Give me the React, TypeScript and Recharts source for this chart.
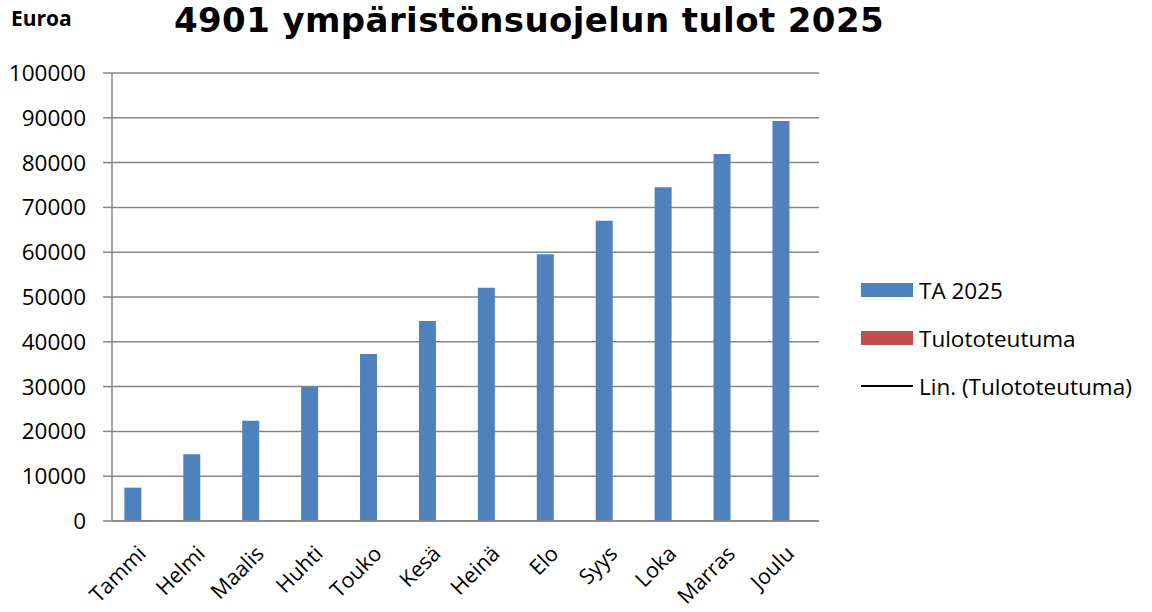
import React from "react";
import { BarChart, Bar, XAxis, YAxis, CartesianGrid } from "recharts";

const months = ["Tammi", "Helmi", "Maalis", "Huhti", "Touko", "Kesä", "Heinä", "Elo", "Syys", "Loka", "Marras", "Joulu"];
const budget = [7450, 14900, 22350, 29900, 37250, 44650, 52050, 59550, 67000, 74500, 81900, 89300];
const actual = [200, null, null, null, null, null, null, null, null, null, null, null];
const yTicks = [0, 10000, 20000, 30000, 40000, 50000, 60000, 70000, 80000, 90000, 100000];

const legendItems = [
  { name: "TA 2025", color: "#4F81BD", kind: "rect" },
  { name: "Tulototeutuma", color: "#C0504D", kind: "rect" },
  { name: "Lin. (Tulototeutuma)", color: "#000000", kind: "line" },
];

const data = months.map((m, i) => ({ month: m, ta: budget[i], tot: actual[i] }));

const FONT = "'Open Sans', Lato, sans-serif";
const GRID = "#868686";

const MonthTick = (props: any) => {
  const { x, y, payload } = props;
  const px = x + 6;
  const py = y + 26;
  return (
    <text x={px} y={py} transform={`rotate(-45, ${px}, ${py})`} textAnchor="end"
      fontSize={21.5} fontFamily={FONT} fill="#000">
      {payload.value}
    </text>
  );
};

export default function App() {
  return (
    <div style={{ position: "absolute", left: 0, top: 0, width: 1152, height: 612, background: "#fff" }}>
      <svg width={1152} height={44} style={{ position: "absolute", left: 0, top: 0 }}>
        <text x={11} y={26} fontFamily={FONT} fontWeight={700} fontSize={21} fill="#000">Euroa</text>
        <text x={529} y={32} textAnchor="middle" fontFamily="'DejaVu Sans', sans-serif" fontWeight={700}
          fontSize={34} letterSpacing={0.4} fill="#000">
          4901 ympäristönsuojelun tulot 2025
        </text>
      </svg>
      <div style={{ position: "absolute", left: 861, top: 266, fontFamily: FONT, fontSize: 22.5, color: "#000" }}>
        {legendItems.map((it) => (
          <div key={it.name} style={{ display: "flex", alignItems: "center", height: 48 }}>
            <span style={{ width: 52, height: it.kind === "rect" ? 14 : 2, background: it.color, marginRight: 6 }} />
            <span>{it.name}</span>
          </div>
        ))}
      </div>
      <BarChart width={1152} height={612} data={data} style={{ position: "absolute", left: 0, top: 0 }}
        margin={{ top: 73, right: 333, bottom: 0, left: 0 }}
        barCategoryGap="21%" barGap={0}>
        <CartesianGrid vertical={false} stroke={GRID} strokeWidth={1.5} />
        <XAxis dataKey="month" height={91} interval={0} tick={<MonthTick />}
          axisLine={{ stroke: GRID, strokeWidth: 1.5 }} tickLine={false} />
        <YAxis width={112} domain={[0, 100000]} ticks={yTicks} interval={0}
          tickSize={9} tickMargin={17}
          tick={{ fill: "#000", fontSize: 22.5, fontFamily: FONT }}
          axisLine={{ stroke: GRID, strokeWidth: 1.5 }} tickLine={{ stroke: GRID, strokeWidth: 1.5 }} />
        <Bar dataKey="ta" name="TA 2025" fill="#4F81BD" isAnimationActive={false} />
        <Bar dataKey="tot" name="Tulototeutuma" fill="#C0504D" isAnimationActive={false} />
      </BarChart>
    </div>
  );
}
